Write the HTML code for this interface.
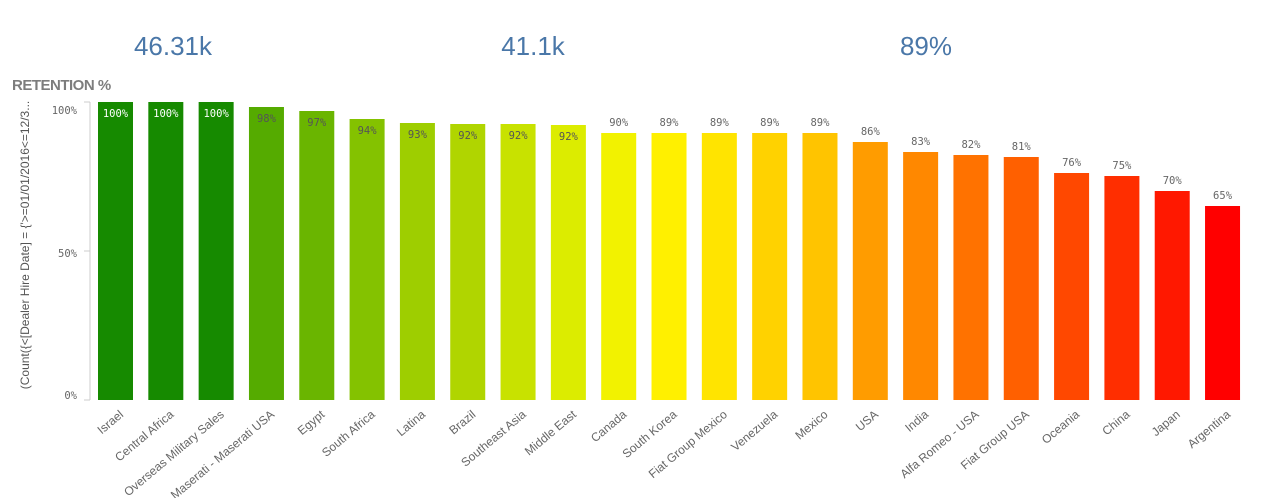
<!DOCTYPE html>
<html><head><meta charset="utf-8">
<style>
html,body{margin:0;padding:0;background:#fff;width:1288px;height:498px;overflow:hidden}
svg{display:block}
.kpi{font-family:"Liberation Sans",sans-serif;font-size:26px;fill:#4a77a8}
.mono{font-family:"DejaVu Sans Mono","Liberation Mono",monospace;font-size:10.5px}
.xl{font-family:"Liberation Sans",sans-serif;font-size:12px;fill:#666}
</style></head><body>
<svg id="s" width="1288" height="498" xmlns="http://www.w3.org/2000/svg">
<text class="kpi" x="173" y="55" text-anchor="middle">46.31k</text>
<text class="kpi" x="533" y="55" text-anchor="middle">41.1k</text>
<text class="kpi" x="926" y="55" text-anchor="middle">89%</text>
<text x="12" y="90" font-family="Liberation Sans,sans-serif" font-weight="bold" font-size="15" fill="#7d7d7d" letter-spacing="-0.5">RETENTION %</text>
<text transform="translate(29,245) rotate(-90)" text-anchor="middle" font-family="Liberation Sans,sans-serif" font-size="12" fill="#555">(Count({&lt;[Dealer Hire Date] = {'&gt;=01/01/2016&lt;=12/3...</text>
<line x1="90" y1="102" x2="90" y2="400" stroke="#ccc"/>
<line x1="84" y1="102" x2="90" y2="102" stroke="#ccc"/>
<line x1="84" y1="251" x2="90" y2="251" stroke="#ccc"/>
<line x1="84" y1="400" x2="90" y2="400" stroke="#ccc"/>
<text class="mono" x="77" y="114" text-anchor="end" fill="#666" font-size="12">100%</text>
<text class="mono" x="77" y="257" text-anchor="end" fill="#666" font-size="12">50%</text>
<text class="mono" x="77" y="399" text-anchor="end" fill="#666" font-size="12">0%</text>
<g id="bars"></g>
</svg>
<script>
var d=[["Israel",100,"#168a00"],["Central Africa",100,"#168a00"],["Overseas Military Sales",100,"#168a00"],["Maserati - Maserati USA",98,"#55ab00"],["Egypt",97,"#6ab500"],["South Africa",94,"#84c200"],["Latina",93,"#9ece00"],["Brazil",92,"#b0d500"],["Southeast Asia",92,"#c8e200"],["Middle East",92,"#dcec00"],["Canada",90,"#f2f200"],["South Korea",89,"#fff000"],["Fiat Group Mexico",89,"#ffe400"],["Venezuela",89,"#ffd200"],["Mexico",89,"#ffc400"],["USA",86,"#ff9c00"],["India",83,"#ff8800"],["Alfa Romeo - USA",82,"#ff7200"],["Fiat Group USA",81,"#ff6000"],["Oceania",76,"#ff4800"],["China",75,"#ff2e00"],["Japan",70,"#ff1800"],["Argentina",65,"#ff0000"]];
var tops=[102,102,102,107,111,119,123,124,124,125,133,133,133,133,133,142,152,155,157,173,176,191,206];
var h="";
for(var i=0;i<d.length;i++){
 var x=98+i*50.32, y=tops[i], cx=x+17.5;
 h+='<rect x="'+x+'" y="'+y+'" width="35" height="'+(400-y)+'" fill="'+d[i][2]+'"/>';
 if(i<10){
  var c=i<3?"#fff":"#555";
  h+='<text class="mono" x="'+cx+'" y="'+(y+15)+'" text-anchor="middle" fill="'+c+'">'+d[i][1]+'%</text>';
 } else {
  h+='<text class="mono" x="'+cx+'" y="'+(y-7)+'" text-anchor="middle" fill="#666">'+d[i][1]+'%</text>';
 }
 h+='<text class="xl" transform="translate('+(cx+3)+',409) rotate(-40)" text-anchor="end" dominant-baseline="hanging">'+d[i][0]+'</text>';
}
document.getElementById("bars").innerHTML=h;
</script>
</body></html>
